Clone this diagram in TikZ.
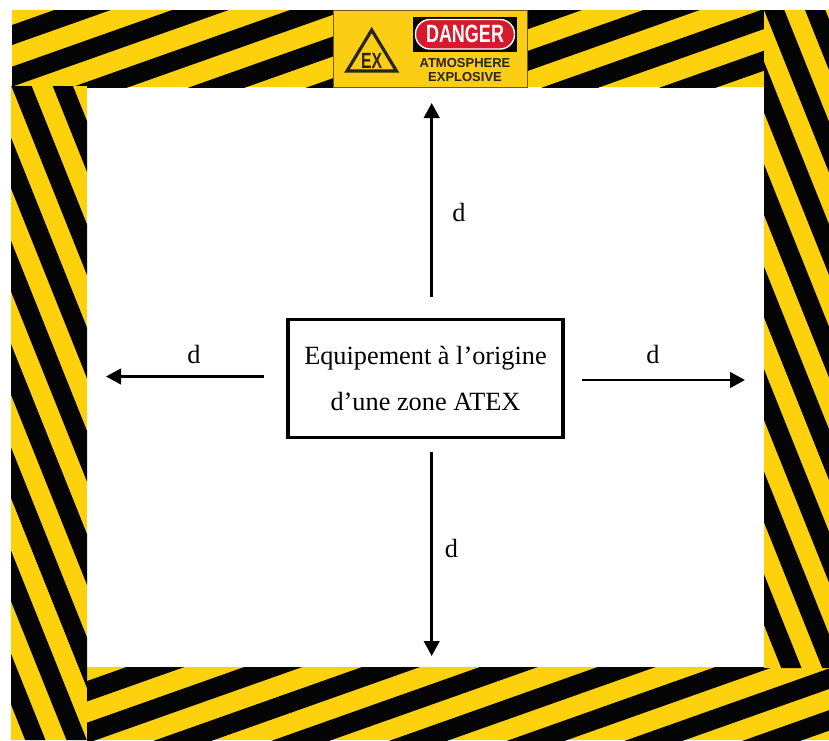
\documentclass[tikz,border=0pt]{standalone}
\usepackage{fontspec}
\setmainfont{Liberation Serif}
\newfontfamily\signfont{Liberation Sans}
\usetikzlibrary{arrows.meta}
\definecolor{hazY}{HTML}{FDD20C}
\definecolor{hazK}{HTML}{050405}
\definecolor{signY}{HTML}{FBCD14}
\definecolor{signK}{HTML}{2A2410}
\definecolor{signR}{HTML}{D8192C}
\tikzset{
  band/.style={fill=hazY,draw=none},
  strip/.style={fill=hazK,draw=none},
  dist/.style={line width=2.7pt,-{Triangle[length=15pt,width=15.5pt]}},
  distlabel/.style={font=\fontsize{26.3}{28}\selectfont,text=black,inner sep=0pt},
  mainbox/.style={draw=black,line width=3.6pt,fill=white,minimum width=275pt,minimum height=118pt,
    outer sep=0pt,inner sep=0pt,align=center,font=\fontsize{26.3}{45.5}\selectfont},
  signtext/.style={font=\signfont\bfseries\fontsize{13}{13}\selectfont,text=signK,inner sep=0pt}
}
\begin{document}
\begin{tikzpicture}[x=1pt,y=-1pt]
\useasboundingbox (0,0) rectangle (829,740);
\fill[white] (0,0) rectangle (829,740);
% top band
\begin{scope}
\clip (12,10) rectangle (764,87);
\fill[band] (12,10) rectangle (764,87);
\foreach \k in {0,...,8}{
  \pgfmathsetmacro\ya{25+41.7*\k}
  \fill[strip] (12,\ya) -- (12,\ya+20) -- (764,\ya+20-266.2) -- (764,\ya-266.2) -- cycle;
}
\end{scope}
% bottom band
\begin{scope}
\clip (87,667) rectangle (829,740);
\fill[band] (87,667) rectangle (829,740);
\foreach \k in {-1,...,8}{
  \pgfmathsetmacro\ya{681+41.7*\k}
  \fill[strip] (87,\ya) -- (87,\ya+20.5) -- (829,\ya+20.5-262.7) -- (829,\ya-262.7) -- cycle;
}
\end{scope}
% left band
\begin{scope}
\clip (11,86) rectangle (87,740);
\fill[band] (11,86) rectangle (87,740);
\foreach \k in {-9,...,1}{
  \pgfmathsetmacro\xa{52.7+41.3*\k}
  \fill[strip] (\xa,86) -- (\xa+20.3,86) -- (\xa+20.3+261.6,740) -- (\xa+261.6,740) -- cycle;
}
\end{scope}
% right band
\begin{scope}
\clip (764,10) rectangle (829,668);
\fill[band] (764,10) rectangle (829,668);
\foreach \k in {-9,...,1}{
  \pgfmathsetmacro\xa{764+41*\k}
  \fill[strip] (\xa,10) -- (\xa+20.3,10) -- (\xa+20.3+263.2,668) -- (\xa+263.2,668) -- cycle;
}
\end{scope}
% sign
\fill[signY,draw=black!55!signY,line width=.7pt] (333.5,10.5) rectangle (527.5,87);
\draw[signK,line width=3.2pt,line join=miter,fill=signY] (371.7,30) -- (347,71) -- (396.5,71) -- cycle;
\node[inner sep=0pt,text=signK] (ex) at (371.7,61) {\signfont\bfseries\fontsize{22}{22}\selectfont\scalebox{.72}[1]{EX}};
\fill[hazK] (413,16.7) rectangle (516.7,51.7);
\fill[signR,draw=white,line width=1.4pt,rounded corners=14.5pt] (415.5,19.5) rectangle (514.5,49);
\node[inner sep=0pt,text=white] (danger) at (465,34.3) {\signfont\bfseries\fontsize{25}{25}\selectfont\scalebox{.72}[1]{DANGER}};
\node[signtext] (atm) at (465,63.5) {ATMOSPHERE};
\node[signtext] (expl) at (465,77) {EXPLOSIVE};
% main diagram
\node[mainbox] (eq) at (425.5,378.5) {Equipement à l’origine\\d’une zone ATEX};
\coordinate (upEnd) at (431.7,103);
\coordinate (downEnd) at (431.7,656);
\coordinate (leftEnd) at (106,376.5);
\coordinate (rightEnd) at (745,380);
\draw[dist] ([xshift=6.2pt,yshift=22.5pt]eq.north) -- (upEnd);
\draw[dist] ([xshift=6.2pt,yshift=-14.5pt]eq.south) -- (downEnd);
\draw[dist] ([xshift=-24pt,yshift=2pt]eq.west) -- (leftEnd);
\draw[dist] ([xshift=19pt,yshift=-1.5pt]eq.east) -- (rightEnd);
\node[distlabel] (dUp) at (459,212) {d};
\node[distlabel] (dLeft) at (194,354.5) {d};
\node[distlabel] (dRight) at (653,354.5) {d};
\node[distlabel] (dDown) at (451.5,548) {d};
\end{tikzpicture}
\end{document}
